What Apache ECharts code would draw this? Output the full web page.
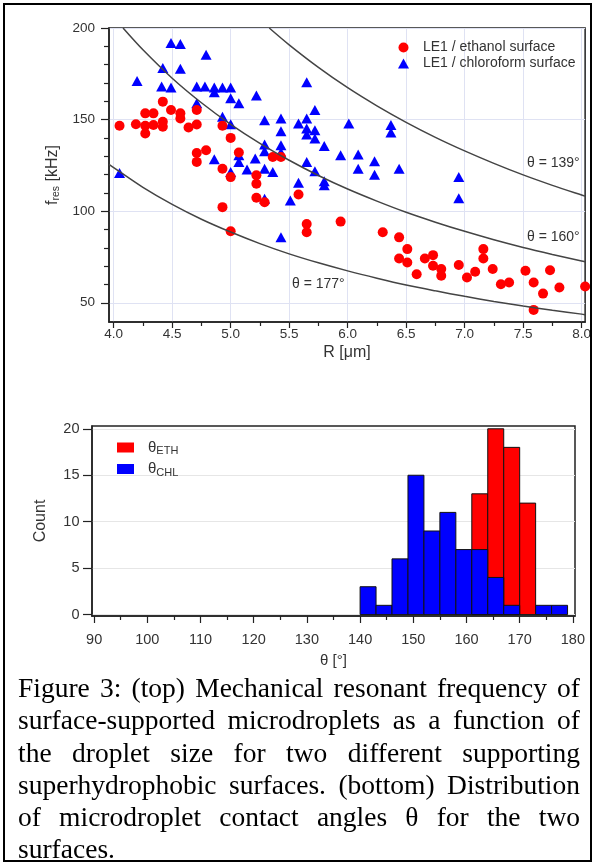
<!DOCTYPE html>
<html><head><meta charset="utf-8">
<script src="https://cdn.jsdelivr.net/npm/echarts@6/dist/echarts.min.js"></script>
<style>
html,body{margin:0;padding:0;background:#fff;}
#chart{position:absolute;left:0;top:0;width:594px;height:863px;}
#frame{position:absolute;left:3px;top:3px;width:585px;height:855px;border:2px solid #000;pointer-events:none;}
#caption{position:absolute;left:18px;top:672px;width:562px;font-family:"Liberation Serif","Times New Roman",serif;font-size:27.5px;line-height:32.3px;text-align:justify;color:#000;}
</style></head><body>
<div id="chart"></div>
<div id="frame"></div>
<div id="caption">Figure 3: (top) Mechanical resonant frequency of surface-supported microdroplets as a function of the droplet size for two different supporting superhydrophobic surfaces. (bottom) Distribution of microdroplet contact angles θ for the two surfaces.</div>
<script>
// ---------- top chart data ----------
const ethanolR = [4.42,4.27,4.34,4.49,4.57,4.57,4.71,4.05,4.19,4.27,4.34,4.42,4.42,4.27,4.64,4.71,4.93,5.00,4.71,4.79,4.71,5.07,4.93,5.00,5.22,5.22,5.22,5.29,4.93,5.00,5.36,5.43,5.58,5.65,5.65,5.94,6.30,6.44,6.51,6.44,6.51,6.66,6.59,6.73,6.73,6.80,6.80,6.95,7.02,7.09,7.16,7.16,7.24,7.31,7.38,7.52,7.59,7.67,7.73,7.59,7.81,8.03];
const ethanolF = [159.8,153.4,153.4,155.2,153.4,150.6,155.2,146.6,147.5,146.6,147.0,148.8,146.1,142.4,145.7,147.3,146.6,140.0,131.8,133.3,126.9,132.0,123.2,118.6,119.6,115.0,107.3,104.9,102.2,89.0,129.6,129.6,109.1,93.0,88.5,94.3,88.5,85.7,79.3,74.2,72.0,74.2,65.6,76.0,70.2,68.4,64.7,70.6,63.8,66.9,79.3,74.2,68.4,60.1,61.1,67.5,61.1,55.0,67.8,46.1,58.3,58.9];
const chloroR = [4.49,4.57,4.79,4.42,4.57,4.20,4.41,4.49,4.71,4.78,4.86,4.93,5.00,4.86,5.00,5.07,5.22,4.71,4.93,5.00,5.29,5.29,5.29,5.07,5.07,5.21,5.14,5.00,4.86,4.05,5.29,5.29,5.65,5.72,5.43,5.58,5.65,5.65,5.72,5.65,5.72,5.43,5.43,5.43,5.80,6.01,6.37,6.37,5.94,6.09,6.23,6.09,6.23,6.44,5.65,5.72,5.80,5.80,5.36,5.58,5.51,5.43,6.95,6.95];
const chloroF = [191.8,191.2,185.4,178.1,177.7,171.1,168.0,167.5,168.0,168.0,167.5,167.5,167.5,164.9,161.6,158.9,163.1,158.9,151.6,147.5,149.7,136.4,132.7,130.5,126.9,128.7,122.7,121.4,128.3,120.8,123.2,106.8,170.4,155.2,150.6,147.9,150.6,145.2,144.2,141.9,139.7,143.7,136.0,132.0,135.6,147.9,147.0,143.0,130.5,130.9,127.2,123.2,119.9,123.2,126.9,121.8,116.3,114.1,121.4,115.5,105.8,85.7,118.6,107.1];

// theta reference curves
const curve139R = [5.33,5.5,5.75,6.0,6.25,6.5,6.75,7.0,7.25,7.5,7.75,8.0,8.03];
const curve139F = [200,190.8,178.5,167.4,157.5,148.5,140.3,132.9,126.1,119.8,114.1,108.8,108.2];
const curve160R = [4.08,4.25,4.5,4.75,5.0,5.25,5.5,5.75,6.0,6.25,6.5,6.75,7.0,7.25,7.5,7.75,8.0,8.03];
const curve160F = [200,188.1,172.6,159.2,147.4,137.0,127.8,119.5,112.1,105.5,99.4,94.0,89.0,84.4,80.2,76.4,72.8,72.4];
const curve177R = [3.96,4.0,4.25,4.5,4.75,5.0,5.25,5.5,5.75,6.0,6.25,6.5,6.75,7.0,7.25,7.5,7.75,8.0,8.03];
const curve177F = [125.6,123.8,113.0,103.7,95.6,88.6,82.3,76.7,71.8,67.4,63.4,59.7,56.5,53.5,50.7,48.2,45.9,43.8,43.5];
const curveLabels = ['θ = 139°','θ = 160°','θ = 177°'];

const topXTicks = [4.0,4.5,5.0,5.5,6.0,6.5,7.0,7.5,8.0];
const topXMinor = [4.25,4.75,5.25,5.75,6.25,6.75,7.25,7.75];
const topYTicks = [50,100,150,200];
const topYMinor = [60,70,80,90,110,120,130,140,160,170,180,190];

// ---------- histogram data ----------
const binEdges = [140,143,146,149,152,155,158,161,164,167,170,173,176,179];
const countETH = [0,0,0,0,0,0,0,13,20,18,12,0,0];
const countCHL = [3,1,6,15,9,11,7,7,4,1,0,1,1];
const histXTicks = [90,100,110,120,130,140,150,160,170,180];
const histXMinor = [95,105,115,125,135,145,155,165,175];
const histYTicks = [0,5,10,15,20];

const zip = (a,b) => a.map((v,i)=>[v,b[i]]);
const bins = (c) => c.map((v,i)=>[binEdges[i], binEdges[i+1], v]);

const FONT = '"Liberation Sans", Arial, sans-serif';
const axisCol = '#222';
const txtCol = '#333';

function majorX(grid, min, max, ticks, opts){
  return Object.assign({
    type:'value', gridIndex:grid, min:min, max:max, position:'bottom',
    axisLine:{show:true,onZero:false,lineStyle:{color:axisCol,width:1.5}},
    axisTick:{show:true,customValues:ticks,length:6,lineStyle:{color:axisCol,width:1.2}},
    axisLabel:{customValues:ticks,color:txtCol,fontFamily:FONT,fontSize:13.5,margin:5},
    splitLine:{show:false}
  }, opts);
}
function minorAxis(type, grid, min, max, ticks, len, pos){
  return {
    type:'value', gridIndex:grid, min:min, max:max, position:pos,
    axisLine:{show:false,onZero:false},
    axisTick:{show:true,customValues:ticks,length:len,lineStyle:{color:axisCol,width:1.2}},
    axisLabel:{show:false}, splitLine:{show:false}
  };
}

const chart = echarts.init(document.getElementById('chart'), null, {renderer:'canvas'});
const histRender = function(params, api){
  const c = api.value(2);
  if (!c) return null;
  const p0 = api.coord([api.value(0), c]);
  const p1 = api.coord([api.value(1), 0]);
  return {type:'rect', shape:{x:p0[0], y:p0[1], width:p1[0]-p0[0], height:p1[1]-p0[1]},
          style:{fill:api.visual('color'), stroke:'#111', lineWidth:1}};
};

chart.setOption({
  animation:false,
  backgroundColor:'#fff',
  grid:[
    {left:109, top:28, width:479, height:294, show:true, borderColor:axisCol, borderWidth:1.5, backgroundColor:'#fff'},
    {left:92, top:426, width:483, height:190, show:true, borderColor:axisCol, borderWidth:1.5, backgroundColor:'#fff'}
  ],
  xAxis:[
    majorX(0, 3.96, 8.03, topXTicks, {
      axisLabel:{customValues:topXTicks,color:txtCol,fontFamily:FONT,fontSize:13.5,margin:5,formatter:v=>v.toFixed(1)},
      splitLine:{show:true,lineStyle:{color:'#dfe2f3',width:1}},
      name:'R [μm]', nameLocation:'middle', nameGap:23,
      nameTextStyle:{color:txtCol,fontFamily:FONT,fontSize:16}
    }),
    minorAxis('x',0,3.96,8.03,topXMinor,4,'bottom'),
    majorX(1, 89.6, 180.4, histXTicks, {
      axisTick:{show:true,customValues:histXTicks,length:7,lineStyle:{color:axisCol,width:1.2}},
      axisLabel:{customValues:histXTicks,color:txtCol,fontFamily:FONT,fontSize:14.5,margin:16},
      name:'θ [°]', nameLocation:'middle', nameGap:37,
      nameTextStyle:{color:txtCol,fontFamily:FONT,fontSize:15}
    }),
    minorAxis('x',1,89.6,180.4,histXMinor,4,'bottom')
  ],
  yAxis:[
    {type:'value', gridIndex:0, min:39.5, max:200, position:'left',
     axisLine:{show:true,onZero:false,lineStyle:{color:axisCol,width:1.5}},
     axisTick:{show:true,customValues:topYTicks,length:8,lineStyle:{color:axisCol,width:1.2}},
     axisLabel:{customValues:topYTicks,color:txtCol,fontFamily:FONT,fontSize:13.5,margin:14},
     splitLine:{show:true,lineStyle:{color:'#dfe2f3',width:1}},
     name:'{a|f}{b|res}{a| [kHz]}', nameLocation:'middle', nameGap:28,
     nameTextStyle:{color:txtCol,fontFamily:FONT,fontSize:16,
       rich:{a:{fontSize:16,color:txtCol,fontFamily:FONT},
             b:{fontSize:10.5,color:txtCol,fontFamily:FONT,padding:[7,0,0,0]}}}
    },
    minorAxis('y',0,39.5,200,topYMinor,5,'left'),
    {type:'value', gridIndex:1, min:-0.15, max:20.3, position:'left',
     axisLine:{show:true,onZero:false,lineStyle:{color:axisCol,width:1.5}},
     axisTick:{show:true,customValues:histYTicks,length:9,lineStyle:{color:axisCol,width:1.2}},
     axisLabel:{customValues:histYTicks,color:txtCol,fontFamily:FONT,fontSize:14.5,margin:12.5},
     splitLine:{show:true,lineStyle:{color:'#e6e6e6',width:1}},
     name:'Count', nameLocation:'middle', nameGap:43,
     nameTextStyle:{color:txtCol,fontFamily:FONT,fontSize:16}
    }
  ],
  legend:[
    {left:393, top:35, orient:'vertical', itemWidth:11, itemHeight:10, itemGap:1,
     data:[{name:'LE1 / ethanol surface', icon:'circle'},{name:'LE1 / chloroform surface', icon:'triangle'}],
     textStyle:{color:txtCol,fontFamily:FONT,fontSize:14,lineHeight:15,padding:[0,0,0,9]}},
    {left:112, top:435, orient:'vertical', itemWidth:17, itemHeight:10, itemGap:5, icon:'rect',
     itemStyle:{borderWidth:0},
     data:['ETH','CHL'],
     formatter:n=>'{t|θ}{s|'+n+'}',
     textStyle:{color:txtCol,fontFamily:FONT,fontSize:15,
       rich:{t:{fontSize:15,color:txtCol,fontFamily:FONT,padding:[0,0,0,9]},
             s:{fontSize:11,color:txtCol,fontFamily:FONT,padding:[7,0,0,0]}}}}
  ],
  series:[
    {type:'line', name:'c139', xAxisIndex:0, yAxisIndex:0, data:zip(curve139R,curve139F), showSymbol:false, smooth:0.3,
     lineStyle:{color:'#444',width:1.5}, silent:true},
    {type:'line', name:'c160', xAxisIndex:0, yAxisIndex:0, data:zip(curve160R,curve160F), showSymbol:false, smooth:0.3,
     lineStyle:{color:'#444',width:1.5}, silent:true},
    {type:'line', name:'c177', xAxisIndex:0, yAxisIndex:0, data:zip(curve177R,curve177F), showSymbol:false, smooth:0.3,
     lineStyle:{color:'#444',width:1.5}, silent:true},
    {type:'scatter', name:'LE1 / chloroform surface', xAxisIndex:0, yAxisIndex:0, data:zip(chloroR,chloroF),
     symbol:'triangle', symbolSize:[11,10], itemStyle:{color:'#0000ff',opacity:1}, clip:false},
    {type:'scatter', name:'LE1 / ethanol surface', xAxisIndex:0, yAxisIndex:0, data:zip(ethanolR,ethanolF),
     symbol:'circle', symbolSize:10, itemStyle:{color:'#ff0000',opacity:1}, clip:false},
    {type:'custom', name:'ETH', xAxisIndex:2, yAxisIndex:2, data:bins(countETH), encode:{x:[0,1],y:2},
     itemStyle:{color:'#ff0000'}, renderItem:histRender},
    {type:'custom', name:'CHL', xAxisIndex:2, yAxisIndex:2, data:bins(countCHL), encode:{x:[0,1],y:2},
     itemStyle:{color:'#0000ff'}, renderItem:histRender}
  ],
  graphic:[
    {type:'text', x:527, y:163, style:{text:curveLabels[0], fill:txtCol, font:'14px '+FONT, verticalAlign:'middle', textVerticalAlign:'middle'}},
    {type:'text', x:527, y:237, style:{text:curveLabels[1], fill:txtCol, font:'14px '+FONT, verticalAlign:'middle', textVerticalAlign:'middle'}},
    {type:'text', x:292, y:284, style:{text:curveLabels[2], fill:txtCol, font:'14px '+FONT, verticalAlign:'middle', textVerticalAlign:'middle'}}
  ]
});
</script>
</body></html>
